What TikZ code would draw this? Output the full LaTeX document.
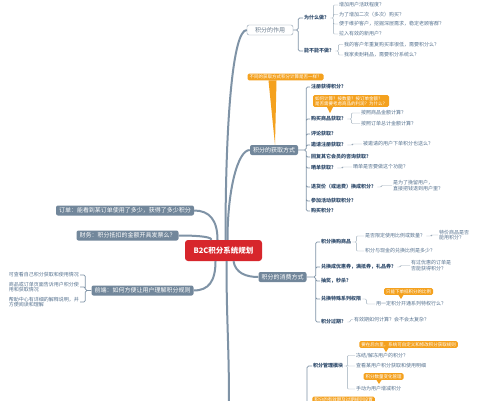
\documentclass[tikz,border=0pt]{standalone}
\usepackage{fontspec}
\setmainfont{Noto Sans CJK SC}
\usepackage{xcolor}
\usepackage{tikz}
\usetikzlibrary{positioning}
\definecolor{rootred}{HTML}{D7262C}
\definecolor{topicgrey}{HTML}{72879B}
\definecolor{linegrey}{HTML}{7F93A6}
\definecolor{noteorange}{HTML}{F4A11E}
\definecolor{subblue}{HTML}{2F4B6C}
\definecolor{leafblue}{HTML}{56728F}

\tikzset{
  root/.style={fill=rootred, text=white, rounded corners=3pt, minimum width=77pt,
    minimum height=21pt, inner sep=1pt, font=\fontsize{7.5}{8}\selectfont\bfseries},
  topic/.style={fill=topicgrey, text=white, rounded corners=2pt, minimum height=10pt,
    inner xsep=3pt, inner ysep=1pt, font=\fontsize{6}{7}\selectfont},
  topicplain/.style={topic, fill=white, draw=topicgrey!80, text=topicgrey!90!black},
  sub/.style={anchor=west, inner sep=1pt, text=subblue, font=\fontsize{5}{6}\selectfont\bfseries},
  leaf/.style={anchor=west, inner sep=1pt, text=leafblue, align=left,
    font=\fontsize{5}{5.8}\selectfont},
  note/.style={fill=noteorange, text=white, rounded corners=1.5pt, inner xsep=2pt,
    inner ysep=1.2pt, align=left, font=\fontsize{4.5}{5.3}\selectfont},
  trunk/.style={draw=linegrey, line width=2pt},
  branch/.style={draw=linegrey, line width=0.7pt, rounded corners=1.5pt},
  twig/.style={draw=linegrey!80, line width=0.4pt, rounded corners=1pt},
}

\begin{document}
\begin{tikzpicture}[x=1pt, y=-1pt]
\useasboundingbox (0,0) rectangle (504,400);
\clip (0,0) rectangle (504,400);
\fill[white] (0,0) rectangle (504,400);

\node[root] (root) at (223.5,250.5) {B2C积分系统规划};

% 积分的作用
\node[topicplain, minimum width=46pt] (zuoyong) at (270,30) {积分的作用};
\node[sub] (why) at (303,18) {为什么做？};
\node[sub] (nocan) at (303,51) {能不能不做？};
\node[leaf] (why1) at (338,5) {增加用户活跃程度？};
\node[leaf] (why2) at (338,14.5) {为了增加二次（多次）购买？};
\node[leaf] (why3) at (338,24) {便于维护客户，挖掘深层需求，稳定老顾客群？};
\node[leaf] (why4) at (338,34) {拉入有效的新用户？};
\node[leaf] (nocan1) at (343,44.5) {我的客户年重复购买率很低，需要积分么？};
\node[leaf] (nocan2) at (343,55) {我家卖耐耗品，需要积分系统么？};

% 积分的获取方式
\node[note] (note1) at (285.5,77) {不同的获取方式积分计算是否一样？};
\node[topic] (huoqu) at (274,150) {积分的获取方式};
\node[sub] (hq1) at (310,87) {注册获得积分？};
\node[note] (note2) at (351,101) {如何计算？按数量？按订单金额？\\是否需要考虑商品的利润？为什么？};
\node[sub] (hq2) at (310,119) {购买商品获取？};
\node[leaf] (hq21) at (360,113) {按照商品金额计算？};
\node[leaf] (hq22) at (360,123.5) {按照订单总计金额计算？};
\node[sub] (hq3) at (310,134) {评论获取？};
\node[sub] (hq4) at (310,145) {邀请注册获取？};
\node[leaf] (hq41) at (362,144) {被邀请的用户下单积分也送么？};
\node[sub] (hq5) at (310,157) {回复其它会员的咨询获取？};
\node[sub] (hq6) at (310,168) {晒单获取？};
\node[leaf] (hq61) at (352,167) {晒单是否要做这个功能？};
\node[sub] (hq7) at (310,187) {退货价（或运费）换成积分？};
\node[leaf] (hq71) at (392,185.5) {是为了挽留用户，\\直接把钱退到用户里？};
\node[sub] (hq8) at (310,201) {参加活动获取积分？};
\node[sub] (hq9) at (310,211) {购买积分？};

% 积分的消费方式
\node[topic] (xiaofei) at (282.5,277) {积分的消费方式};
\node[sub] (xf1) at (320,242) {积分换购商品};
\node[leaf] (xf11) at (364,236) {是否限定使用比例或数量？};
\node[leaf] (xf111) at (438,235) {特价商品是否\\能用积分？};
\node[leaf] (xf12) at (364,251) {积分与现金的兑换比例是多少？};
\node[sub] (xf2) at (320,267) {兑换成优惠券，满抵券，礼品券？};
\node[leaf] (xf21) at (410,265.5) {有过优惠的订单是\\否能获得积分？};
\node[sub] (xf3) at (320,281) {抽奖，秒杀？};
\node[note] (note3) at (408.5,291.5) {只能下单抵积分的比例};
\node[sub] (xf4) at (320,299) {兑换特殊系列权限};
\node[leaf] (xf41) at (375,304) {用一定积分开通系列特权行么？};
\node[sub] (xf5) at (320,322) {积分过期？};
\node[leaf] (xf51) at (353,319.5) {有效期如何计算？会不会太复杂？};

% 积分管理模块
\node[note] (note4) at (408.5,344.5) {要在后台里，系统可自定义和修改积分获取规则};
\node[sub] (guanli) at (312,366) {积分管理模块};
\node[leaf] (gl1) at (355,355.5) {冻结/解冻用户的积分？};
\node[leaf] (gl2) at (355,366) {查看某用户积分获取和使用明细};
\node[note] (note5) at (383.5,376.5) {积分数量变化管理};
\node[leaf] (gl3) at (355,389) {手动为用户增减积分};
\node[note] (note6) at (343.5,400) {积分的有效期及过期规则设置};
\coordinate (glfoot) at (307,404);
\coordinate (trunkfoot) at (229,404);

% left side
\node[topic] (dingdan) at (125,210.5) {订单：能看到某订单使用了多少，获得了多少积分};
\node[topic] (caiwu) at (127.5,235.5) {财务：积分抵扣的金额开具发票么？};
\node[topic] (qianduan) at (142.5,290.5) {前端：如何方便让用户理解积分规则};
\node[leaf, anchor=east] (qd1) at (80,275) {可查看自己积分获取和使用情况};
\node[leaf, anchor=east] (qd2) at (80,287) {商品或订单页面告诉用户积分使\\用和获取情况};
\node[leaf, anchor=east] (qd3) at (80,302) {帮助中心有详细的解释说明，并\\方便阅读和理解};

% callout tails
\fill[noteorange] ([xshift=-17pt]note1.south) -- ([xshift=-9pt]note1.south) -- ([xshift=1pt]huoqu.north) -- cycle;
\fill[noteorange] ([xshift=-24pt]note2.south) -- ([xshift=-18pt]note2.south) -- ++(-3,6) -- cycle;
\fill[noteorange] ([xshift=-10pt]note3.south) -- ([xshift=-5pt]note3.south) -- ++(-2.5,4) -- cycle;
\fill[noteorange] ([xshift=-25pt]note4.south) -- ([xshift=-20pt]note4.south) -- ++(-2.5,4) -- cycle;
\fill[noteorange] ([xshift=-7pt]note5.south) -- ([xshift=-2pt]note5.south) -- ++(-2.5,4) -- cycle;

% trunks
\draw[trunk] ([xshift=2pt]root.north) .. controls +(0,-120) and +(-14,0) .. (zuoyong.west);
\draw[trunk] ([xshift=4pt]root.north) .. controls +(0,-50) and +(-12,0) .. (huoqu.west);
\draw[trunk] ([xshift=10pt]root.south) .. controls +(2,12) and +(-12,0) .. (xiaofei.west);
\draw[trunk] ([xshift=3pt]root.south) .. controls +(0,60) and +(0,-60) .. (trunkfoot);
\draw[trunk] ([xshift=-6pt]root.north) .. controls +(0,-20) and +(15,0) .. (dingdan.east);
\draw[trunk] ([xshift=-12pt]root.north) .. controls +(0,-4) and +(10,0) .. (caiwu.east);
\draw[trunk] ([xshift=-8pt]root.south) .. controls +(0,20) and +(15,0) .. (qianduan.east);

% branches
\draw[branch] (zuoyong.east) -- ++(5,0) |- (why.west) (zuoyong.east) -- ++(5,0) |- (nocan.west);
\draw[branch] (huoqu.east) -- ++(8,0) |- (hq1.west) (huoqu.east) -- ++(8,0) |- (hq2.west)
  (huoqu.east) -- ++(8,0) |- (hq3.west) (huoqu.east) -- ++(8,0) |- (hq4.west)
  (huoqu.east) -- ++(8,0) |- (hq5.west) (huoqu.east) -- ++(8,0) |- (hq6.west)
  (huoqu.east) -- ++(8,0) |- (hq7.west) (huoqu.east) -- ++(8,0) |- (hq8.west)
  (huoqu.east) -- ++(8,0) |- (hq9.west);
\draw[branch] (xiaofei.east) -- ++(9,0) |- (xf1.west) (xiaofei.east) -- ++(9,0) |- (xf2.west)
  (xiaofei.east) -- ++(9,0) |- (xf3.west) (xiaofei.east) -- ++(9,0) |- (xf4.west)
  (xiaofei.east) -- ++(9,0) |- (xf5.west);
\draw[branch] (guanli.west) -| (glfoot);
\draw[branch] (qianduan.west) -- ++(-6,0) |- (qd1.east) (qianduan.west) -- ++(-6,0) |- (qd2.east)
  (qianduan.west) -- ++(-6,0) |- (qd3.east);

% twigs
\draw[twig] (why.east) -- ++(3,0) |- (why1.west) (why.east) -- ++(3,0) |- (why2.west)
  (why.east) -- ++(3,0) |- (why3.west) (why.east) -- ++(3,0) |- (why4.west);
\draw[twig] (nocan.east) -- ++(3,0) |- (nocan1.west) (nocan.east) -- ++(3,0) |- (nocan2.west);
\draw[twig] (hq2.east) -- ++(4,0) |- (hq21.west) (hq2.east) -- ++(4,0) |- (hq22.west);
\draw[twig] (hq4.east) -- ++(5,0) |- (hq41.west);
\draw[twig] (hq6.east) -- ++(5,0) |- (hq61.west);
\draw[twig] (hq7.east) -- ++(4,0) |- (hq71.west);
\draw[twig] (xf1.east) -- ++(4,0) |- (xf11.west) (xf1.east) -- ++(4,0) |- (xf12.west);
\draw[twig] (xf11.east) -- ++(5,0) |- (xf111.west);
\draw[twig] (xf2.east) -- ++(3,0) |- (xf21.west);
\draw[twig] (xf4.east) -- ++(4,0) |- (xf41.west);
\draw[twig] (xf5.east) -- ++(3,0) |- (xf51.west);
\draw[twig] (guanli.east) -- ++(3,0) |- (gl1.west) (guanli.east) -- ++(3,0) |- (gl2.west)
  (guanli.east) -- ++(3,0) |- (gl3.west);
\end{tikzpicture}
\end{document}
